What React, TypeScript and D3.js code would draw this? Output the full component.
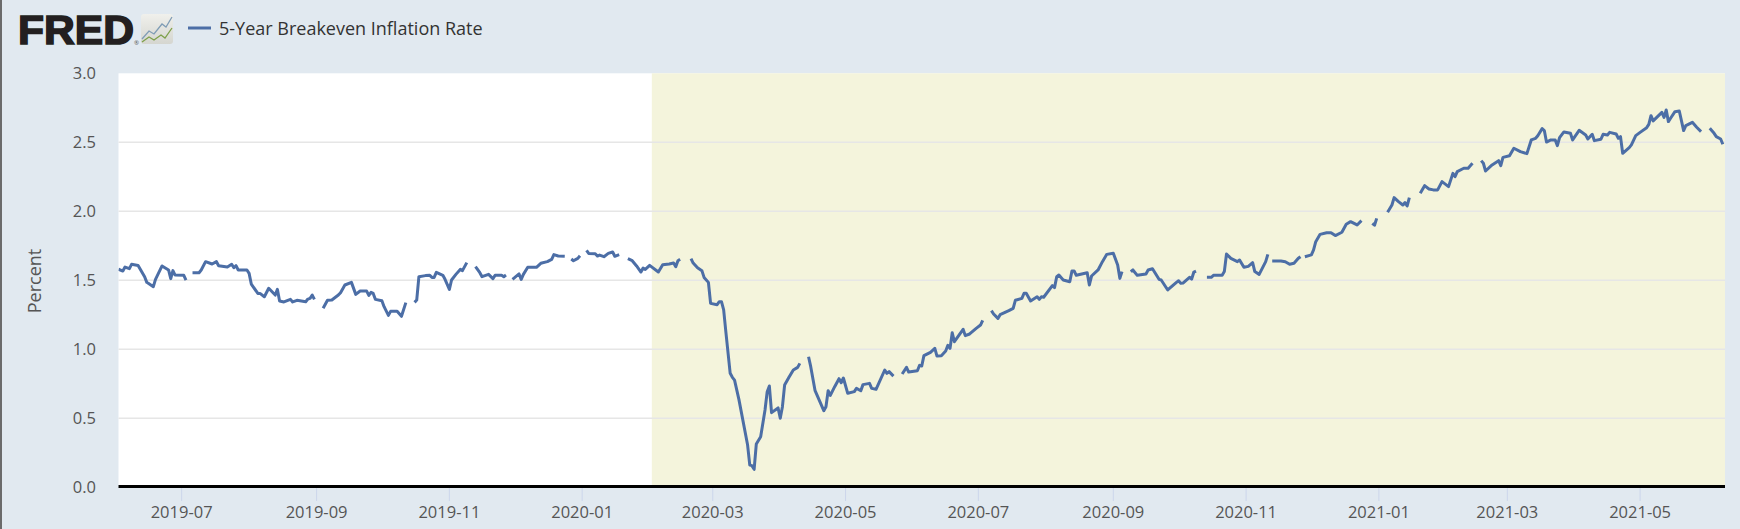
import React from 'react';
import * as d3 from 'd3';

type Obs = [string, number];

const run2019a: Obs[] = [['2019-06-02',1.58],['2019-06-04',1.567],['2019-06-05',1.596],['2019-06-07',1.584],['2019-06-08',1.616],['2019-06-11',1.608],['2019-06-12',1.58],['2019-06-14',1.526],['2019-06-15',1.485],['2019-06-18',1.454],['2019-06-19',1.507],['2019-06-22',1.604],['2019-06-25',1.575],['2019-06-26',1.512],['2019-06-27',1.57],['2019-06-28',1.538],['2019-07-02',1.536],['2019-07-03',1.502]];
const run2019b: Obs[] = [['2019-07-06',1.555],['2019-07-09',1.555],['2019-07-10',1.575],['2019-07-12',1.635],['2019-07-15',1.618],['2019-07-17',1.635],['2019-07-18',1.606],['2019-07-22',1.596],['2019-07-24',1.616],['2019-07-25',1.591],['2019-07-26',1.606],['2019-07-27',1.575],['2019-07-31',1.575],['2019-08-01',1.55],['2019-08-02',1.473],['2019-08-05',1.405],['2019-08-06',1.405],['2019-08-08',1.381],['2019-08-10',1.442],['2019-08-13',1.393],['2019-08-14',1.434],['2019-08-15',1.35],['2019-08-17',1.343],['2019-08-20',1.362],['2019-08-21',1.343],['2019-08-23',1.355],['2019-08-27',1.345],['2019-08-28',1.364],['2019-08-29',1.369],['2019-08-30',1.393],['2019-08-31',1.362]];
const run2019c: Obs[] = [['2019-09-04',1.297],['2019-09-06',1.355],['2019-09-08',1.357],['2019-09-11',1.393],['2019-09-12',1.41],['2019-09-14',1.466],['2019-09-17',1.485],['2019-09-19',1.398],['2019-09-21',1.422],['2019-09-24',1.422],['2019-09-25',1.391],['2019-09-26',1.413],['2019-09-27',1.405],['2019-09-28',1.362],['2019-10-01',1.352],['2019-10-02',1.309],['2019-10-04',1.246],['2019-10-05',1.275],['2019-10-08',1.275],['2019-10-10',1.239],['2019-10-12',1.338]];
const run2019d: Obs[] = [['2019-10-16',1.34],['2019-10-17',1.357],['2019-10-18',1.526],['2019-10-21',1.534],['2019-10-23',1.536],['2019-10-24',1.521],['2019-10-25',1.521],['2019-10-26',1.558],['2019-10-29',1.536],['2019-10-30',1.507],['2019-11-01',1.434],['2019-11-02',1.502],['2019-11-04',1.543],['2019-11-06',1.579],['2019-11-07',1.57],['2019-11-09',1.628]];
const run2019e: Obs[] = [['2019-11-13',1.599],['2019-11-15',1.555],['2019-11-16',1.526],['2019-11-19',1.543],['2019-11-21',1.512],['2019-11-22',1.536],['2019-11-25',1.536],['2019-11-26',1.526],['2019-11-27',1.538]];
const run2019f: Obs[] = [['2019-11-30',1.507],['2019-12-03',1.546],['2019-12-04',1.507],['2019-12-05',1.543],['2019-12-07',1.594],['2019-12-11',1.594],['2019-12-13',1.623],['2019-12-16',1.635],['2019-12-18',1.652],['2019-12-19',1.686],['2019-12-21',1.676],['2019-12-24',1.674]];
const run2019g: Obs[] = [['2019-12-27',1.654],['2019-12-28',1.642],['2019-12-30',1.659],['2019-12-31',1.678]];
const run2020a: Obs[] = [['2020-01-03',1.717],['2020-01-04',1.695],['2020-01-07',1.693],['2020-01-08',1.676],['2020-01-09',1.683],['2020-01-11',1.671],['2020-01-13',1.695],['2020-01-15',1.705],['2020-01-16',1.674],['2020-01-18',1.686]];
const run2020b: Obs[] = [['2020-01-22',1.657],['2020-01-24',1.642],['2020-01-26',1.604],['2020-01-28',1.56],['2020-01-29',1.589],['2020-01-30',1.579],['2020-02-01',1.608],['2020-02-05',1.56],['2020-02-07',1.613],['2020-02-10',1.618],['2020-02-12',1.625],['2020-02-13',1.599],['2020-02-14',1.642],['2020-02-15',1.652]];
const run2020c: Obs[] = [['2020-02-20',1.657],['2020-02-21',1.625],['2020-02-23',1.591],['2020-02-25',1.57],['2020-02-26',1.521],['2020-02-28',1.485],['2020-02-29',1.333],['2020-03-03',1.323],['2020-03-04',1.345],['2020-03-05',1.345],['2020-03-06',1.285],['2020-03-07',1.128],['2020-03-09',0.826],['2020-03-10',0.797],['2020-03-11',0.777],['2020-03-13',0.637],['2020-03-17',0.306],['2020-03-18',0.161],['2020-03-19',0.157],['2020-03-20',0.13],['2020-03-21',0.314],['2020-03-23',0.367],['2020-03-25',0.56],['2020-03-26',0.693],['2020-03-27',0.734],['2020-03-28',0.541],['2020-03-31',0.575],['2020-04-01',0.5],['2020-04-02',0.584],['2020-04-03',0.741],['2020-04-05',0.797],['2020-04-07',0.85],['2020-04-09',0.869],['2020-04-10',0.898]];
const run2020d: Obs[] = [['2020-04-14',0.946],['2020-04-15',0.874],['2020-04-17',0.7],['2020-04-21',0.555],['2020-04-22',0.584],['2020-04-23',0.7],['2020-04-24',0.666],['2020-04-26',0.729],['2020-04-28',0.787],['2020-04-29',0.758],['2020-04-30',0.792],['2020-05-02',0.681],['2020-05-05',0.693],['2020-05-06',0.717],['2020-05-08',0.7],['2020-05-09',0.744],['2020-05-12',0.753],['2020-05-13',0.717],['2020-05-15',0.71],['2020-05-19',0.85],['2020-05-20',0.826],['2020-05-21',0.838],['2020-05-23',0.806]];
const run2020e: Obs[] = [['2020-05-27',0.821],['2020-05-29',0.869],['2020-05-30',0.835],['2020-06-03',0.845],['2020-06-04',0.884],['2020-06-05',0.879],['2020-06-06',0.954],['2020-06-09',0.978],['2020-06-11',1.007],['2020-06-12',0.951],['2020-06-14',0.954],['2020-06-16',0.988],['2020-06-17',1.029],['2020-06-18',1.007],['2020-06-19',1.12],['2020-06-20',1.055],['2020-06-24',1.145],['2020-06-25',1.099],['2020-06-27',1.111],['2020-06-30',1.152],['2020-07-02',1.176],['2020-07-03',1.21]];
const run2020f: Obs[] = [['2020-07-07',1.28],['2020-07-08',1.256],['2020-07-10',1.224],['2020-07-11',1.251],['2020-07-14',1.273],['2020-07-15',1.28],['2020-07-17',1.297],['2020-07-18',1.355],['2020-07-21',1.369],['2020-07-22',1.406],['2020-07-23',1.406],['2020-07-25',1.35],['2020-07-28',1.381],['2020-07-29',1.362],['2020-07-30',1.381],['2020-07-31',1.377],['2020-08-04',1.461],['2020-08-05',1.447],['2020-08-06',1.526],['2020-08-07',1.538],['2020-08-09',1.502],['2020-08-12',1.49],['2020-08-13',1.567],['2020-08-14',1.567],['2020-08-15',1.536],['2020-08-20',1.555],['2020-08-21',1.466],['2020-08-22',1.531],['2020-08-25',1.575],['2020-08-27',1.635],['2020-08-29',1.688],['2020-09-01',1.696],['2020-09-03',1.611],['2020-09-04',1.514],['2020-09-05',1.563]];
const run2020g: Obs[] = [['2020-09-09',1.563],['2020-09-10',1.575],['2020-09-12',1.536],['2020-09-16',1.546],['2020-09-17',1.575],['2020-09-19',1.584],['2020-09-22',1.507],['2020-09-23',1.502],['2020-09-26',1.43],['2020-09-30',1.485],['2020-10-01',1.497],['2020-10-02',1.478],['2020-10-03',1.48],['2020-10-06',1.522],['2020-10-07',1.509],['2020-10-08',1.56],['2020-10-09',1.567]];
const run2020h: Obs[] = [['2020-10-14',1.522],['2020-10-16',1.522],['2020-10-17',1.536],['2020-10-21',1.536],['2020-10-22',1.563],['2020-10-23',1.691],['2020-10-25',1.659],['2020-10-28',1.635],['2020-10-29',1.647],['2020-10-31',1.594],['2020-11-02',1.601],['2020-11-04',1.628],['2020-11-05',1.563],['2020-11-07',1.543],['2020-11-10',1.635],['2020-11-11',1.688]];
const run2020i: Obs[] = [['2020-11-13',1.64],['2020-11-17',1.64],['2020-11-19',1.635],['2020-11-21',1.616],['2020-11-23',1.623],['2020-11-25',1.66],['2020-11-26',1.671]];
const run2020j: Obs[] = [['2020-11-28',1.671],['2020-12-01',1.684],['2020-12-02',1.72],['2020-12-03',1.78],['2020-12-05',1.833],['2020-12-08',1.845],['2020-12-10',1.845],['2020-12-12',1.824],['2020-12-15',1.848],['2020-12-17',1.906],['2020-12-19',1.925],['2020-12-22',1.901],['2020-12-24',1.932]];
const run2020k: Obs[] = [['2020-12-29',1.913],['2020-12-30',1.899],['2020-12-31',1.949]];
const run2021a: Obs[] = [['2021-01-05',1.993],['2021-01-07',2.046],['2021-01-08',2.099],['2021-01-10',2.07],['2021-01-12',2.046],['2021-01-13',2.063],['2021-01-14',2.039],['2021-01-15',2.099]];
const run2021b: Obs[] = [['2021-01-20',2.131],['2021-01-22',2.186],['2021-01-24',2.162],['2021-01-26',2.155],['2021-01-28',2.155],['2021-01-30',2.215],['2021-02-02',2.179],['2021-02-04',2.275],['2021-02-05',2.251],['2021-02-06',2.288],['2021-02-09',2.312],['2021-02-11',2.312],['2021-02-13',2.348]];
const run2021c: Obs[] = [['2021-02-17',2.367],['2021-02-18',2.348],['2021-02-19',2.292],['2021-02-22',2.336],['2021-02-25',2.367],['2021-02-26',2.331],['2021-02-27',2.391],['2021-03-02',2.403],['2021-03-04',2.457],['2021-03-07',2.432],['2021-03-10',2.418],['2021-03-12',2.517],['2021-03-14',2.529],['2021-03-15',2.548],['2021-03-17',2.599],['2021-03-18',2.585],['2021-03-19',2.502],['2021-03-21',2.517],['2021-03-23',2.517],['2021-03-24',2.476],['2021-03-25',2.534],['2021-03-27',2.575],['2021-03-30',2.565],['2021-03-31',2.517],['2021-04-03',2.587],['2021-04-06',2.553],['2021-04-07',2.524],['2021-04-09',2.558],['2021-04-10',2.512],['2021-04-13',2.522],['2021-04-14',2.558],['2021-04-16',2.553],['2021-04-17',2.572],['2021-04-20',2.56],['2021-04-21',2.529],['2021-04-22',2.541],['2021-04-23',2.42],['2021-04-26',2.461],['2021-04-27',2.481],['2021-04-29',2.548],['2021-05-01',2.572],['2021-05-04',2.606],['2021-05-05',2.63],['2021-05-06',2.693],['2021-05-07',2.655],['2021-05-11',2.717],['2021-05-12',2.681],['2021-05-13',2.734],['2021-05-14',2.65],['2021-05-15',2.674],['2021-05-17',2.722],['2021-05-19',2.727],['2021-05-21',2.585],['2021-05-22',2.621],['2021-05-25',2.645],['2021-05-27',2.609],['2021-05-29',2.577]];
const run2021d: Obs[] = [['2021-06-02',2.601],['2021-06-04',2.565],['2021-06-05',2.541],['2021-06-07',2.524],['2021-06-08',2.486]];

const runs: Obs[][] = [run2019a, run2019b, run2019c, run2019d, run2019e, run2019f, run2019g, run2020a, run2020b, run2020c, run2020d, run2020e, run2020f, run2020g, run2020h, run2020i, run2020j, run2020k, run2021a, run2021b, run2021c, run2021d];

const yTicks = [0, 0.5, 1, 1.5, 2, 2.5, 3];
const xTicks = ['2019-07-01','2019-09-01','2019-11-01','2020-01-01','2020-03-01','2020-05-01','2020-07-01','2020-09-01','2020-11-01','2021-01-01','2021-03-01','2021-05-01'];
const xDomain = ['2019-06-02', '2021-06-09'];
const recession = ['2020-02-02', '2021-06-09'];
const seriesName = '5-Year Breakeven Inflation Rate';
const yTitle = 'Percent';

const W = 1740, H = 529;
const L = 118.5, R = 1725, T = 73.3, B = 487.3;
const FONT = '"Open Sans", sans-serif';
const COLOR = '#4c6ea6';

export default function App() {
  const x = d3.scaleUtc().domain(xDomain.map(d => new Date(d))).range([L, R]);
  const y = d3.scaleLinear().domain([0, 3]).range([B, T]);
  const line = d3.line<Obs>().x(d => x(new Date(d[0]))).y(d => y(d[1]));
  const fmt = d3.utcFormat('%Y-%m');
  return (
    <svg width={W} height={H} style={{ position: 'absolute', left: 0, top: 0, display: 'block' }} fontFamily={FONT}>
      <defs>
        <clipPath id="plot"><rect x={L} y={T - 5} width={R - L} height={B - T + 5} /></clipPath>
        <linearGradient id="ico" x1="0" y1="0" x2="0" y2="1">
          <stop offset="0" stopColor="#f0f0ec" /><stop offset="1" stopColor="#d5d6d0" />
        </linearGradient>
      </defs>
      <rect width={W} height={H} fill="#e1e9f0" />
      <rect width={2} height={H} fill="#6b6b6b" />
      {/* logo */}
      <text x={18} y={44} fontFamily='"Liberation Sans", sans-serif' fontWeight={700} fontSize={41.5} fill="#231f20" stroke="#231f20" strokeWidth={1.6} textLength={116} lengthAdjust="spacingAndGlyphs">FRED</text>
      <text x={134} y={45} fontSize={6} fill="#555">®</text>
      <rect x={141} y={14} width={32} height={30} rx={3} fill="url(#ico)" />
      <path d="M142 39 L149 31 L154 34 L162 24 L166 27 L172 17" fill="none" stroke="#7f9cb5" strokeWidth={1.3} />
      <path d="M142 42 L149 37 L154 40 L161 35 L165 38 L172 28" fill="none" stroke="#7ea04a" strokeWidth={1.3} />
      {/* legend */}
      <line x1={188} x2={211} y1={28} y2={28} stroke={COLOR} strokeWidth={3} />
      <text x={219} y={35} fontSize={18} fill="#333">{seriesName}</text>
      {/* plot */}
      <rect x={L} y={T} width={R - L} height={B - T} fill="#fff" />
      <rect x={x(new Date(recession[0]))} y={T} width={x(new Date(recession[1])) - x(new Date(recession[0]))} height={B - T} fill="#f4f4dc" />
      {yTicks.filter(t => t > 0 && t < 3).map(t => (
        <line key={t} x1={L} x2={R} y1={y(t)} y2={y(t)} stroke="#e6e6e6" strokeWidth={1.5} />
      ))}
      {yTicks.map(t => (
        <text key={t} x={96} y={y(t) + 5.5} textAnchor="end" fontSize={16.5} fill="#555">{t.toFixed(1)}</text>
      ))}
      <text transform={`translate(41,281) rotate(-90)`} textAnchor="middle" fontSize={18} fill="#555">{yTitle}</text>
      <g clipPath="url(#plot)">
        {runs.map((r, i) => (
          <path key={i} d={line(r) ?? ''} fill="none" stroke={COLOR} strokeWidth={3} strokeLinejoin="round" />
        ))}
      </g>
      {xTicks.map(t => (
        <g key={t}>
          <line x1={x(new Date(t))} x2={x(new Date(t))} y1={B} y2={501} stroke="#ccd6eb" strokeWidth={1} />
          <text x={x(new Date(t))} y={518} textAnchor="middle" fontSize={16.5} fill="#555">{fmt(new Date(t))}</text>
        </g>
      ))}
      <line x1={L} x2={R} y1={B - 0.8} y2={B - 0.8} stroke="#000" strokeWidth={3} />
    </svg>
  );
}
